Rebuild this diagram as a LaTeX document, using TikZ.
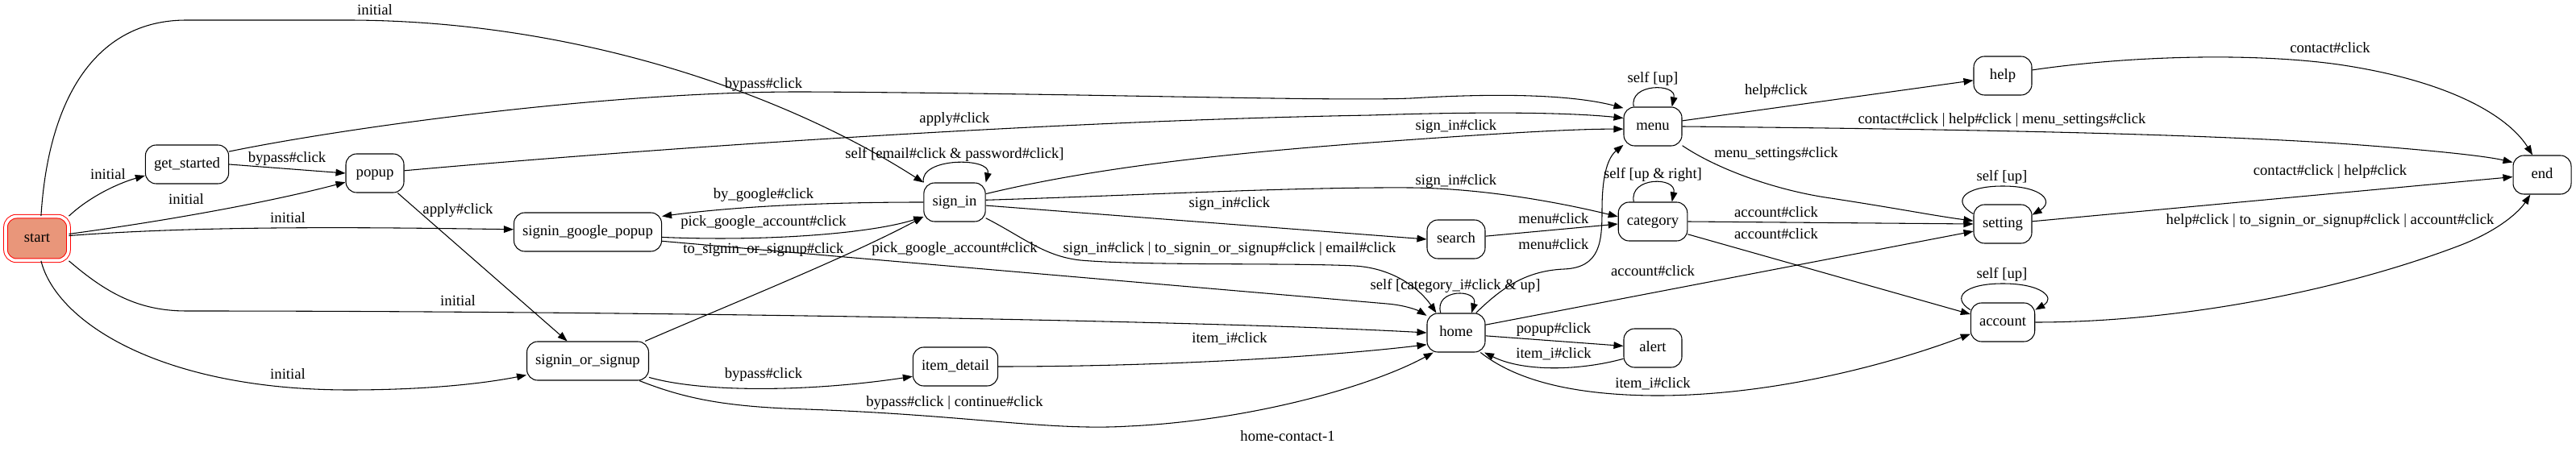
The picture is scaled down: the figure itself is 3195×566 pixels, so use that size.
\documentclass[tikz,border=0pt]{standalone}
\usepackage{fontspec}
\setmainfont{Liberation Serif}
\usetikzlibrary{arrows.meta}
\definecolor{startfill}{HTML}{E9967A}

\begin{document}
\begin{tikzpicture}[x=0.75pt, y=-0.75pt,
    every node/.style={font=\fontsize{14pt}{16pt}\selectfont, text height=10pt, text depth=3pt},
    screen/.style={draw, line width=0.8pt, rounded corners=10pt, minimum width=54pt, minimum height=36pt, inner xsep=8pt, inner ysep=0pt},
    startscreen/.style={screen, draw=red, fill=startfill, double=white, double distance=2.75pt, line width=0.75pt, minimum width=58.5pt, minimum height=41pt},
    trans/.style={line width=0.8pt, -{Triangle[length=9pt, width=6.5pt]}},
    lbl/.style={inner sep=0pt}]%
        \useasboundingbox (0,0) rectangle (3195,566);
        % screens
        \node[startscreen] (start) at (46,296) {start};
        \node[screen] (getstarted) at (232,204) {get\_started};
        \node[screen] (popup) at (465,215) {popup};
        \node[screen] (gpopup) at (729,288) {signin\_google\_popup};
        \node[screen] (sos) at (729,448) {signin\_or\_signup};
        \node[screen] (signin) at (1184,251) {sign\_in};
        \node[screen] (itemdetail) at (1185,455) {item\_detail};
        \node[screen] (search) at (1806,297) {search};
        \node[screen] (home) at (1806,413) {home};
        \node[screen] (menu) at (2050,157) {menu};
        \node[screen] (category) at (2050,275) {category};
        \node[screen] (alert) at (2050,432) {alert};
        \node[screen] (help) at (2484,94) {help};
        \node[screen] (setting) at (2484,278) {setting};
        \node[screen] (account) at (2484,400) {account};
        \node[screen] (endnode) at (3153,217) {end};
        % transitions
        \draw[trans] (start.80) .. controls (60,120) and (120,25) .. (231,25) -- (430,25) .. controls (720,25) and (980,120) .. (signin.north west);
        \draw[trans] (start.north east) .. controls (110,245) and (145,228) .. (getstarted.195);
        \draw[trans] (getstarted.17) .. controls (420,160) and (750,113) .. (1000,114) .. controls (1350,116) and (1650,126) .. (1750,122) .. controls (1880,114) and (1960,120) .. (menu.148);
        \draw[trans] (getstarted.east) -- (popup.west);
        \draw[trans] (start.8) .. controls (200,275) and (330,252) .. (popup.197);
        \draw[trans] (start.5) .. controls (250,280) and (450,282) .. (gpopup.178);
        \draw[trans] (popup.5) .. controls (800,185) and (1300,150) .. (1700,143) .. controls (1850,138) and (1950,140) .. (menu.164);
        \draw[trans] (popup.-41) -- (sos.136);
        \draw[trans] (start.south east) .. controls (130,362) and (170,386) .. (231,386) .. controls (800,386) and (1500,398) .. (home.west);
        \draw[trans] (start.-80) .. controls (70,400) and (200,484) .. (433,484) .. controls (530,484) and (600,476) .. (sos.193);
        \draw[trans] (signin.west) .. controls (1000,251) and (900,258) .. (gpopup.12);
        \draw[trans] (gpopup.-4) .. controls (950,300) and (1080,290) .. (signin.205);
        \draw[trans] (gpopup.-7) .. controls (1150,328) and (1500,358) .. (1720,377) .. controls (1745,379) and (1760,386) .. (home.150);
        \draw[trans] (sos.19) .. controls (900,380) and (1050,320) .. (signin.205);
        \draw[trans] (sos.-15) .. controls (870,487) and (1000,487) .. (itemdetail.193);
        \draw[trans] (sos.-21.5) .. controls (850,495) and (900,505) .. (1000,508) .. controls (1200,515) and (1300,535) .. (1400,529) .. controls (1550,522) and (1700,480) .. (home.221);
        \draw[trans] (signin.north west) .. controls (1140,195) and (1230,195) .. (signin.north east);
        \draw[trans] (signin.15) .. controls (1350,210) and (1500,192) .. (1700,177) .. controls (1850,166) and (1950,160) .. (menu.185);
        \draw[trans] (signin.4) .. controls (1400,243) and (1600,232) .. (1750,233) .. controls (1850,234) and (1950,255) .. (category.172);
        \draw[trans] (signin.-6) -- (search.west);
        \draw[trans] (signin.-27) .. controls (1270,295) and (1295,318) .. (1340,323) .. controls (1420,330) and (1600,326) .. (1680,330) .. controls (1730,333) and (1762,360) .. (home.135);
        \draw[trans] (itemdetail.east) .. controls (1450,455) and (1650,442) .. (home.202);
        \draw[trans] (search.6) -- (category.184);
        \draw[trans] (home.45) .. controls (1860,360) and (1890,336) .. (1940,334) .. controls (1985,332) and (1987,300) .. (1987,260) .. controls (1987,215) and (1995,195) .. (menu.212);
        \draw[trans] (home.128) .. controls (1778,358) and (1834,358) .. (home.52);
        \draw[trans] (home.-6) -- (alert.176);
        \draw[trans] (alert.200) .. controls (1960,460) and (1890,462) .. (home.-35);
        \draw[trans] (home.15) -- (setting.194);
        \draw[trans] (home.-39) .. controls (1880,472) and (1950,490) .. (2050,491) .. controls (2200,492) and (2350,450) .. (account.200);
        \draw[trans] (menu.134) .. controls (2020,103) and (2080,103) .. (menu.46);
        \draw[trans] (menu.11) -- (help.189);
        \draw[trans] (menu.east) .. controls (2400,160) and (2700,165) .. (2900,178) .. controls (3000,185) and (3080,193) .. (endnode.157);
        \draw[trans] (menu.-33) .. controls (2130,210) and (2200,235) .. (2264,245) .. controls (2350,258) and (2400,268) .. (setting.174);
        \draw[trans] (category.134) .. controls (2020,219) and (2080,219) .. (category.46);
        \draw[trans] (category.east) -- (setting.west);
        \draw[trans] (category.-20) -- (account.166);
        \draw[trans] (help.11) .. controls (2650,68) and (2800,66) .. (2900,80) .. controls (3050,102) and (3115,150) .. (endnode.116);
        \draw[trans] (setting.161) .. controls (2420,250) and (2435,231) .. (2484,231) .. controls (2533,231) and (2548,250) .. (setting.17);
        \draw[trans] (setting.5) -- (endnode.184);
        \draw[trans] (account.159) .. controls (2420,370) and (2435,352) .. (2484,352) .. controls (2533,352) and (2550,370) .. (account.21);
        \draw[trans] (account.east) .. controls (2700,400) and (2900,362) .. (3050,305) .. controls (3100,286) and (3125,262) .. (endnode.239);
        % labels
        \node[lbl] (l-init-a) at (465,14) {initial};
        \node[lbl] (l-init-b) at (134,218) {initial};
        \node[lbl] (l-bypass-a) at (356,197) {bypass\#click};
        \node[lbl] (l-init-c) at (231,249) {initial};
        \node[lbl] (l-init-d) at (357,272) {initial};
        \node[lbl] (l-init-e) at (568,375) {initial};
        \node[lbl] (l-init-f) at (357,466) {initial};
        \node[lbl] (l-apply-a) at (568,261) {apply\#click};
        \node[lbl] (l-bypass-b) at (947,105) {bypass\#click};
        \node[lbl] (l-apply-b) at (1184,148) {apply\#click};
        \node[lbl] (l-google) at (947,242) {by\_google\#click};
        \node[lbl] (l-pick-a) at (947,276) {pick\_google\_account\#click};
        \node[lbl] (l-tosos) at (947,310) {to\_signin\_or\_signup\#click};
        \node[lbl] (l-pick-b) at (1184,309) {pick\_google\_account\#click};
        \node[lbl] (l-bypass-c) at (947,465) {bypass\#click};
        \node[lbl] (l-continue) at (1184,500) {bypass\#click | continue\#click};
        \node[lbl] (l-self-signin) at (1184,192) {self [email\#click \& password\#click]};
        \node[lbl] (l-signin-a) at (1806,157) {sign\_in\#click};
        \node[lbl] (l-signin-b) at (1806,225) {sign\_in\#click};
        \node[lbl] (l-signin-c) at (1525,253) {sign\_in\#click};
        \node[lbl] (l-signin-d) at (1525,309) {sign\_in\#click | to\_signin\_or\_signup\#click | email\#click};
        \node[lbl] (l-item-a) at (1525,421) {item\_i\#click};
        \node[lbl] (l-menu-a) at (1927,273) {menu\#click};
        \node[lbl] (l-menu-b) at (1927,305) {menu\#click};
        \node[lbl] (l-self-home) at (1805,355) {self [category\_i\#click \& up]};
        \node[lbl] (l-popup) at (1927,409) {popup\#click};
        \node[lbl] (l-item-b) at (1927,440) {item\_i\#click};
        \node[lbl] (l-account-a) at (2050,338) {account\#click};
        \node[lbl] (l-item-c) at (2050,477) {item\_i\#click};
        \node[lbl] (l-self-menu) at (2050,98) {self [up]};
        \node[lbl] (l-help) at (2203,113) {help\#click};
        \node[lbl] (l-menu-end) at (2483,149) {contact\#click | help\#click | menu\_settings\#click};
        \node[lbl] (l-settings) at (2203,191) {menu\_settings\#click};
        \node[lbl] (l-self-cat) at (2050,217) {self [up \& right]};
        \node[lbl] (l-account-b) at (2203,265) {account\#click};
        \node[lbl] (l-account-c) at (2203,292) {account\#click};
        \node[lbl] (l-contact) at (2890,61) {contact\#click};
        \node[lbl] (l-self-set) at (2483,220) {self [up]};
        \node[lbl] (l-set-end) at (2890,213) {contact\#click | help\#click};
        \node[lbl] (l-self-acc) at (2483,341) {self [up]};
        \node[lbl] (l-acc-end) at (2890,274) {help\#click | to\_signin\_or\_signup\#click | account\#click};
        \node[lbl] (title) at (1597,543) {home-contact-1};
    \end{tikzpicture}
\end{document}
